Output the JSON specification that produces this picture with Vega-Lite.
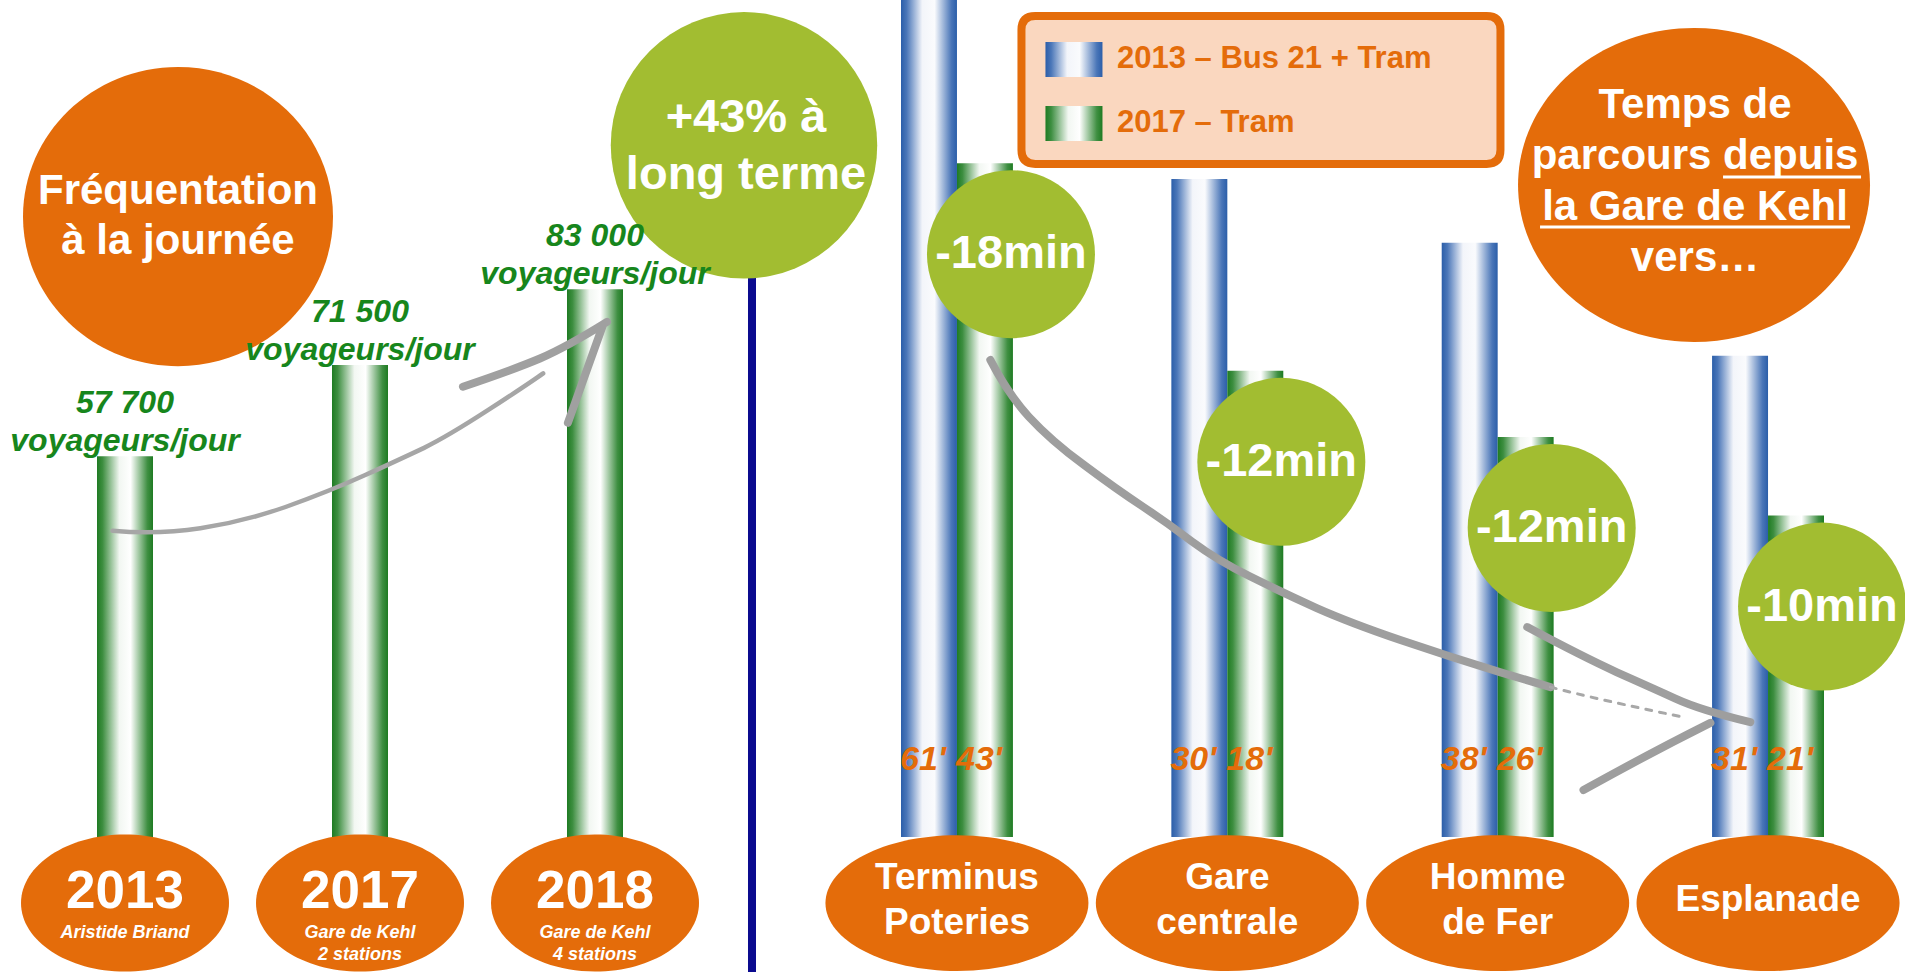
{
  "$schema": "https://vega.github.io/schema/vega-lite/v6.json",
  "width": 1905,
  "height": 972,
  "autosize": {"type": "none"},
  "padding": 0,
  "background": "#ffffff",
  "config": {
    "view": {"stroke": null},
    "axis": {"disable": true},
    "legend": {"disable": true},
    "text": {"font": "Liberation Sans"}
  },
  "datasets": {
    "frequentation": [
      {"annee": "2013", "voyageurs": 57700, "libelle": "57 700", "site": "Aristide Briand"},
      {"annee": "2017", "voyageurs": 71500, "libelle": "71 500", "site": "Gare de Kehl\n2 stations"},
      {"annee": "2018", "voyageurs": 83000, "libelle": "83 000", "site": "Gare de Kehl\n4 stations"}
    ],
    "temps": [
      {"station": "Terminus Poteries", "nom": "Terminus\nPoteries", "serie": "2013", "minutes": 61, "libelle": "61'", "hauteur": 102},
      {"station": "Terminus Poteries", "nom": "Terminus\nPoteries", "serie": "2017", "minutes": 43, "libelle": "43'", "hauteur": 80.5, "gain": "-18min"},
      {"station": "Gare centrale", "nom": "Gare\ncentrale", "serie": "2013", "minutes": 30, "libelle": "30'", "hauteur": 78.6},
      {"station": "Gare centrale", "nom": "Gare\ncentrale", "serie": "2017", "minutes": 18, "libelle": "18'", "hauteur": 55.7, "gain": "-12min"},
      {"station": "Homme de Fer", "nom": "Homme\nde Fer", "serie": "2013", "minutes": 38, "libelle": "38'", "hauteur": 71.0},
      {"station": "Homme de Fer", "nom": "Homme\nde Fer", "serie": "2017", "minutes": 26, "libelle": "26'", "hauteur": 47.8, "gain": "-12min"},
      {"station": "Esplanade", "nom": "Esplanade", "serie": "2013", "minutes": 31, "libelle": "31'", "hauteur": 57.5},
      {"station": "Esplanade", "nom": "Esplanade", "serie": "2017", "minutes": 21, "libelle": "21'", "hauteur": 38.4, "gain": "-10min"}
    ]
  },
  "layer": [
    {
      "data": {"name": "frequentation"},
      "encoding": {
        "x": {"field": "annee", "type": "nominal", "scale": {"type": "band", "domain": ["2013", "2017", "2018"], "range": [97, 623], "paddingInner": 0.7617, "paddingOuter": 0}},
        "y": {"field": "voyageurs", "type": "quantitative", "scale": {"domain": [0, 100000], "range": [837, 177], "nice": false, "zero": true}}
      },
      "layer": [
        {
          "transform": [{"filter": "datum.annee === '2018'"}],
          "mark": {"type": "rule", "color": "#0b0b8f", "strokeWidth": 8, "xOffset": 157},
          "encoding": {
            "y": {"datum": 87000, "type": "quantitative"},
            "y2": {"datum": -21000}
          }
        },
        {
          "mark": {"type": "bar", "stroke": null, "fill": {"gradient": "linear", "x1": 0, "y1": 0, "x2": 1, "y2": 0, "stops": [{"offset": 0, "color": "#1e7b22"}, {"offset": 0.1, "color": "#3d8e40"}, {"offset": 0.4, "color": "#f2f7f2"}, {"offset": 0.6, "color": "#ffffff"}, {"offset": 0.9, "color": "#3f8f42"}, {"offset": 1, "color": "#1e7b22"}]}}
        },
        {
          "transform": [{"filter": "datum.annee === '2017'"}],
          "mark": {"type": "point", "shape": "M-1,0.416Q-0.816,0.432,-0.645,0.406Q-0.473,0.38,-0.301,0.32Q-0.129,0.259,0.019,0.192Q0.166,0.125,0.259,0.081Q0.352,0.036,0.52,-0.073Q0.687,-0.182,0.74,-0.22", "size": 245025, "filled": false, "stroke": "#a6a6a6", "strokeWidth": 4.5, "strokeCap": "round", "opacity": 1},
          "encoding": {"y": {"datum": 62000, "type": "quantitative"}}
        },
        {
          "transform": [{"filter": "datum.annee === '2017'"}],
          "mark": {"type": "point", "shape": "M0.416,-0.166Q0.618,-0.234,0.727,-0.28Q0.836,-0.327,0.998,-0.428M0.982,-0.416L0.84,-0.02", "size": 245025, "filled": false, "stroke": "#a0a0a0", "strokeWidth": 8, "strokeCap": "round", "opacity": 1},
          "encoding": {"y": {"datum": 62000, "type": "quantitative"}}
        },
        {
          "mark": {"type": "point", "shape": "M1,0C1,0.364,0.552,0.659,0,0.659C-0.552,0.659,-1,0.364,-1,0C-1,-0.364,-0.552,-0.659,0,-0.659C0.552,-0.659,1,-0.364,1,0Z", "size": 43264, "filled": true, "fill": "#e46c0a", "stroke": null, "opacity": 1},
          "encoding": {"y": {"datum": -10000, "type": "quantitative"}}
        },
        {
          "mark": {"type": "text", "fontSize": 53, "fontWeight": "bold", "color": "#ffffff", "dy": 5, "baseline": "alphabetic"},
          "encoding": {"y": {"datum": -10000, "type": "quantitative"}, "text": {"field": "annee"}}
        },
        {
          "mark": {"type": "text", "fontSize": 18, "fontWeight": "bold", "fontStyle": "italic", "color": "#ffffff", "dy": 35, "baseline": "alphabetic", "lineBreak": "\n", "lineHeight": 22},
          "encoding": {"y": {"datum": -10000, "type": "quantitative"}, "text": {"field": "site"}}
        },
        {
          "transform": [{"filter": "datum.annee === '2013'"}],
          "mark": {"type": "point", "shape": "M1,0C1,0.533,0.552,0.965,0,0.965C-0.552,0.965,-1,0.533,-1,0C-1,-0.533,-0.552,-0.965,0,-0.965C0.552,-0.965,1,-0.533,1,0Z", "size": 96100, "filled": true, "fill": "#e46c0a", "stroke": null, "opacity": 1, "xOffset": 53},
          "encoding": {"y": {"datum": 94000, "type": "quantitative"}}
        },
        {
          "transform": [{"filter": "datum.annee === '2013'"}],
          "mark": {"type": "text", "fontSize": 42, "fontWeight": "bold", "color": "#ffffff", "dx": 53, "dy": -13, "baseline": "alphabetic", "lineBreak": "\n", "lineHeight": 50},
          "encoding": {"y": {"datum": 94000, "type": "quantitative"}, "text": {"value": "Fréquentation\nà la journée"}}
        },
        {
          "transform": [{"filter": "datum.annee === '2018'"}],
          "mark": {"type": "point", "shape": "circle", "size": 71000, "filled": true, "fill": "#a2bd31", "stroke": null, "opacity": 1, "xOffset": 149},
          "encoding": {"y": {"datum": 104800, "type": "quantitative"}}
        },
        {
          "transform": [{"filter": "datum.annee === '2018'"}],
          "mark": {"type": "text", "fontSize": 47, "fontWeight": "bold", "color": "#ffffff", "dx": 151, "dy": -13, "baseline": "alphabetic", "lineBreak": "\n", "lineHeight": 57},
          "encoding": {"y": {"datum": 104800, "type": "quantitative"}, "text": {"value": "+43% à\nlong terme"}}
        },
        {
          "mark": {"type": "text", "fontSize": 32, "fontWeight": "bold", "fontStyle": "italic", "color": "#17861c", "dy": -43, "baseline": "alphabetic"},
          "encoding": {"text": {"field": "libelle"}}
        },
        {
          "mark": {"type": "text", "fontSize": 32, "fontWeight": "bold", "fontStyle": "italic", "color": "#17861c", "dy": -5, "baseline": "alphabetic"},
          "encoding": {"text": {"value": "voyageurs/jour"}}
        }
      ]
    },
    {
      "data": {"name": "temps"},
      "encoding": {
        "x": {"field": "station", "type": "nominal", "scale": {"type": "band", "domain": ["Terminus Poteries", "Gare centrale", "Homme de Fer", "Esplanade"], "range": [901, 1824], "paddingInner": 0.586, "paddingOuter": 0}},
        "y": {"field": "hauteur", "type": "quantitative", "scale": {"domain": [0, 100], "range": [837, 0], "nice": false, "zero": true}}
      },
      "layer": [
        {
          "transform": [{"filter": "datum.serie === '2013'"}],
          "mark": {"type": "bar", "stroke": null, "fill": {"gradient": "linear", "x1": 0, "y1": 0, "x2": 1, "y2": 0, "stops": [{"offset": 0, "color": "#2b5ea9"}, {"offset": 0.1, "color": "#4a76b8"}, {"offset": 0.38, "color": "#f3f5fa"}, {"offset": 0.6, "color": "#fafbfd"}, {"offset": 0.9, "color": "#4a76b8"}, {"offset": 1, "color": "#2b5ea9"}]}},
          "encoding": {"xOffset": {"field": "serie", "type": "nominal", "scale": {"domain": ["2013", "2017"], "paddingInner": 0, "paddingOuter": 0}}}
        },
        {
          "transform": [{"filter": "datum.serie === '2017'"}],
          "mark": {"type": "bar", "stroke": null, "fill": {"gradient": "linear", "x1": 0, "y1": 0, "x2": 1, "y2": 0, "stops": [{"offset": 0, "color": "#1e7b22"}, {"offset": 0.1, "color": "#3d8e40"}, {"offset": 0.4, "color": "#f2f7f2"}, {"offset": 0.6, "color": "#ffffff"}, {"offset": 0.9, "color": "#3f8f42"}, {"offset": 1, "color": "#1e7b22"}]}},
          "encoding": {"xOffset": {"field": "serie", "type": "nominal", "scale": {"domain": ["2013", "2017"], "paddingInner": 0, "paddingOuter": 0}}}
        },
        {
          "transform": [{"filter": "datum.station === 'Gare centrale' && datum.serie === '2013'"}],
          "mark": {"type": "point", "shape": "M-1,-0.566Q-0.955,-0.479,-0.899,-0.417Q-0.842,-0.355,-0.754,-0.29Q-0.666,-0.224,-0.6,-0.181Q-0.534,-0.137,-0.469,-0.088Q-0.403,-0.039,-0.316,0.004Q-0.229,0.047,-0.141,0.087Q-0.053,0.126,0.079,0.171Q0.211,0.216,0.343,0.256L0.474,0.295M0.413,0.137Q0.561,0.216,0.649,0.256Q0.737,0.295,0.803,0.325Q0.868,0.355,1,0.387M0.895,0.389Q0.737,0.468,0.561,0.566", "size": 577600, "filled": false, "stroke": "#9e9e9e", "strokeWidth": 8, "strokeCap": "round", "opacity": 1, "xOffset": 143},
          "encoding": {"y": {"datum": 31.3, "type": "quantitative"}}
        },
        {
          "transform": [{"filter": "datum.station === 'Gare centrale' && datum.serie === '2013'"}],
          "mark": {"type": "point", "shape": "M0.474,0.295Q0.605,0.329,0.824,0.374", "size": 577600, "filled": false, "stroke": "#a8a8a8", "strokeWidth": 3, "strokeDash": [6, 8], "strokeCap": "round", "opacity": 1, "xOffset": 143},
          "encoding": {"y": {"datum": 31.3, "type": "quantitative"}}
        },
        {
          "mark": {"type": "text", "fontSize": 34, "fontWeight": "bold", "fontStyle": "italic", "color": "#e46c0a", "dx": -6, "baseline": "alphabetic"},
          "encoding": {
            "xOffset": {"field": "serie", "type": "nominal", "scale": {"domain": ["2013", "2017"], "paddingInner": 0, "paddingOuter": 0}},
            "y": {"datum": 8.0, "type": "quantitative"},
            "text": {"field": "libelle"}
          }
        },
        {
          "transform": [{"filter": "datum.serie === '2017'"}],
          "mark": {"type": "point", "shape": "circle", "size": 28224, "filled": true, "fill": "#a2bd31", "stroke": null, "opacity": 1, "xOffset": 54, "yOffset": 91}
        },
        {
          "transform": [{"filter": "datum.serie === '2017'"}],
          "mark": {"type": "text", "fontSize": 47, "fontWeight": "bold", "color": "#ffffff", "dx": 54, "dy": 105, "baseline": "alphabetic"},
          "encoding": {"text": {"field": "gain"}}
        },
        {
          "transform": [{"filter": "datum.serie === '2013'"}],
          "mark": {"type": "point", "shape": "M1,0C1,0.286,0.552,0.517,0,0.517C-0.552,0.517,-1,0.286,-1,0C-1,-0.286,-0.552,-0.517,0,-0.517C0.552,-0.517,1,-0.286,1,0Z", "size": 69169, "filled": true, "fill": "#e46c0a", "stroke": null, "opacity": 1},
          "encoding": {"y": {"datum": -7.9, "type": "quantitative"}}
        },
        {
          "transform": [{"filter": "datum.serie === '2013' && indexof(datum.nom, '\\n') >= 0"}],
          "mark": {"type": "text", "fontSize": 37, "fontWeight": "bold", "color": "#ffffff", "dy": -25, "baseline": "middle", "lineBreak": "\n", "lineHeight": 45},
          "encoding": {"y": {"datum": -7.9, "type": "quantitative"}, "text": {"field": "nom"}}
        },
        {
          "transform": [{"filter": "datum.serie === '2013' && indexof(datum.nom, '\\n') < 0"}],
          "mark": {"type": "text", "fontSize": 37, "fontWeight": "bold", "color": "#ffffff", "dy": -3, "baseline": "middle"},
          "encoding": {"y": {"datum": -7.9, "type": "quantitative"}, "text": {"field": "nom"}}
        },
        {
          "transform": [{"filter": "datum.station === 'Esplanade' && datum.serie === '2013'"}],
          "mark": {"type": "point", "shape": "M1,0C1,0.493,0.552,0.892,0,0.892C-0.552,0.892,-1,0.493,-1,0C-1,-0.493,-0.552,-0.892,0,-0.892C0.552,-0.892,1,-0.493,1,0Z", "size": 123904, "filled": true, "fill": "#e46c0a", "stroke": null, "opacity": 1, "xOffset": -74},
          "encoding": {"y": {"datum": 77.9, "type": "quantitative"}}
        },
        {
          "transform": [{"filter": "datum.station === 'Esplanade' && datum.serie === '2013'"}],
          "mark": {"type": "text", "fontSize": 42, "fontWeight": "bold", "color": "#ffffff", "dx": -73, "dy": -67, "baseline": "alphabetic", "lineBreak": "\n", "lineHeight": 51},
          "encoding": {"y": {"datum": 77.9, "type": "quantitative"}, "text": {"value": "Temps de\nparcours depuis\nla Gare de Kehl\nvers…"}}
        },
        {
          "transform": [{"filter": "datum.station === 'Esplanade' && datum.serie === '2013'"}],
          "mark": {"type": "rule", "color": "#ffffff", "strokeWidth": 3, "xOffset": -45, "x2Offset": 93, "yOffset": -8},
          "encoding": {"x2": {"field": "station"}, "y": {"datum": 77.9, "type": "quantitative"}}
        },
        {
          "transform": [{"filter": "datum.station === 'Esplanade' && datum.serie === '2013'"}],
          "mark": {"type": "rule", "color": "#ffffff", "strokeWidth": 3, "xOffset": -228, "x2Offset": 82, "yOffset": 42},
          "encoding": {"x2": {"field": "station"}, "y": {"datum": 77.9, "type": "quantitative"}}
        },
        {
          "transform": [{"filter": "datum.station === 'Terminus Poteries' && datum.serie === '2013'"}],
          "mark": {"type": "point", "shape": "M-0.942,-0.309L0.942,-0.309Q1,-0.309,1,-0.251L1,0.251Q1,0.309,0.942,0.309L-0.942,0.309Q-1,0.309,-1,0.251L-1,-0.251Q-1,-0.309,-0.942,-0.309Z", "size": 229441, "filled": true, "fill": "#fad7bf", "stroke": "#e46c0a", "strokeWidth": 8, "opacity": 1, "xOffset": 304},
          "encoding": {"y": {"datum": 89.25, "type": "quantitative"}}
        },
        {
          "transform": [{"filter": "datum.station === 'Terminus Poteries' && datum.serie === '2013'"}],
          "mark": {"type": "point", "shape": "M-1,-0.614L1,-0.614L1,0.614L-1,0.614Z", "size": 3249, "filled": true, "stroke": null, "opacity": 1, "xOffset": 117, "yOffset": -30.5, "fill": {"gradient": "linear", "x1": 0, "y1": 0, "x2": 1, "y2": 0, "stops": [{"offset": 0, "color": "#2b5ea9"}, {"offset": 0.1, "color": "#4a76b8"}, {"offset": 0.38, "color": "#f3f5fa"}, {"offset": 0.6, "color": "#fafbfd"}, {"offset": 0.9, "color": "#4a76b8"}, {"offset": 1, "color": "#2b5ea9"}]}},
          "encoding": {"y": {"datum": 89.25, "type": "quantitative"}}
        },
        {
          "transform": [{"filter": "datum.station === 'Terminus Poteries' && datum.serie === '2017'"}],
          "mark": {"type": "point", "shape": "M-1,-0.614L1,-0.614L1,0.614L-1,0.614Z", "size": 3249, "filled": true, "stroke": null, "opacity": 1, "xOffset": 117, "yOffset": 33.5, "fill": {"gradient": "linear", "x1": 0, "y1": 0, "x2": 1, "y2": 0, "stops": [{"offset": 0, "color": "#1e7b22"}, {"offset": 0.1, "color": "#3d8e40"}, {"offset": 0.4, "color": "#f2f7f2"}, {"offset": 0.6, "color": "#ffffff"}, {"offset": 0.9, "color": "#3f8f42"}, {"offset": 1, "color": "#1e7b22"}]}},
          "encoding": {"y": {"datum": 89.25, "type": "quantitative"}}
        },
        {
          "transform": [{"filter": "datum.station === 'Terminus Poteries' && datum.serie === '2013'"}],
          "mark": {"type": "text", "fontSize": 31, "fontWeight": "bold", "color": "#e46c0a", "align": "left", "dx": 160, "dy": -22, "baseline": "alphabetic"},
          "encoding": {"y": {"datum": 89.25, "type": "quantitative"}, "text": {"value": "2013 – Bus 21 + Tram"}}
        },
        {
          "transform": [{"filter": "datum.station === 'Terminus Poteries' && datum.serie === '2017'"}],
          "mark": {"type": "text", "fontSize": 31, "fontWeight": "bold", "color": "#e46c0a", "align": "left", "dx": 160, "dy": 42, "baseline": "alphabetic"},
          "encoding": {"y": {"datum": 89.25, "type": "quantitative"}, "text": {"value": "2017 – Tram"}}
        }
      ]
    }
  ],
  "resolve": {"scale": {"x": "independent", "y": "independent"}}
}
